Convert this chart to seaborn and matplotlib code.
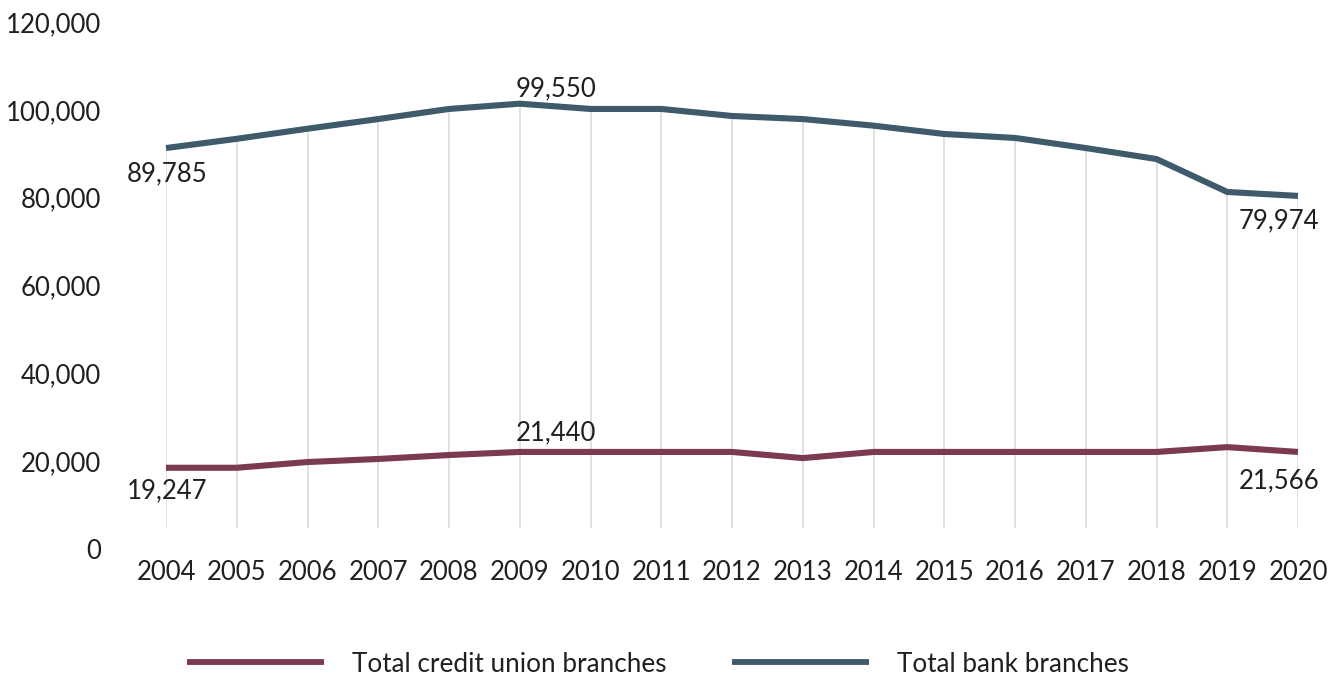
import numpy as np
import pandas as pd
import matplotlib
matplotlib.use("Agg")
import matplotlib.pyplot as plt
import seaborn as sns

years = list(range(2004, 2021))
bank_branches = [91300, 93400, 95700, 97900, 100200, 101400, 100200, 100200, 98600,
                 97900, 96400, 94500, 93600, 91300, 88800, 81300, 80400]
credit_union_branches = [18500, 18500, 19800, 20500, 21400, 22100, 22100, 22100, 22100,
                         20700, 22100, 22100, 22100, 22100, 22100, 23200, 22100]
series_names = ["Total credit union branches", "Total bank branches"]
y_ticks = [0, 20000, 40000, 60000, 80000, 100000, 120000]
# annotation labels: (series, year, text)
annotations = [
    ("Total bank branches", 2004, "89,785"),
    ("Total bank branches", 2009, "99,550"),
    ("Total bank branches", 2020, "79,974"),
    ("Total credit union branches", 2004, "19,247"),
    ("Total credit union branches", 2009, "21,440"),
    ("Total credit union branches", 2020, "21,566"),
]

colors = {"Total credit union branches": "#7B3A52", "Total bank branches": "#3E5A6B"}

df = pd.concat([
    pd.DataFrame({"year": years, "value": credit_union_branches, "series": series_names[0]}),
    pd.DataFrame({"year": years, "value": bank_branches, "series": series_names[1]}),
])

sns.set_theme(style="white")
plt.rcParams["font.family"] = ["Lato", "DejaVu Sans"]
text_color = "#231F20"
fs = 18.5

W, H = 1343, 677
fig = plt.figure(figsize=(W / 100, H / 100), dpi=100)
ax = fig.add_axes([166 / W, (H - 549) / H, (1298 - 166) / W, (549 - 22) / H])

# drop lines from the bank line down toward the category axis
ax.vlines(years, 4800, bank_branches, colors="#D9D9D9", linewidth=1.1, zorder=0)

sns.lineplot(data=df, x="year", y="value", hue="series", hue_order=series_names,
             palette=colors, linewidth=4.4, ax=ax, legend=False, zorder=3)
for ln in ax.lines:
    ln.set_solid_capstyle("butt")
    ln.set_solid_joinstyle("round")
    ln.set_clip_on(False)

ax.set_xlim(2004, 2020)
ax.set_ylim(0, 120000)
ax.set_yticks(y_ticks)
ax.set_yticklabels([f"{v:,}" for v in y_ticks])
ax.set_xticks(years)
ax.set_xticklabels([str(y) for y in years])
ax.tick_params(axis="y", length=0, pad=47, labelsize=fs, labelcolor=text_color)
ax.tick_params(axis="x", length=0, pad=8, labelsize=fs, labelcolor=text_color)
ax.set_xlabel("")
ax.set_ylabel("")
for s in ax.spines.values():
    s.set_visible(False)
ax.grid(False)

lookup = {series_names[0]: dict(zip(years, credit_union_branches)),
          series_names[1]: dict(zip(years, bank_branches))}
offsets = {
    ("Total bank branches", 2004): (0.7, -18.7),
    ("Total bank branches", 2009): (26, 10.8),
    ("Total bank branches", 2020): (-13.7, -18.0),
    ("Total credit union branches", 2004): (0.7, -16.6),
    ("Total credit union branches", 2009): (26, 13.7),
    ("Total credit union branches", 2020): (-13.7, -20.9),
}
for series, yr, txt in annotations:
    ax.annotate(txt, xy=(yr, lookup[series][yr]), xytext=offsets[(series, yr)],
                textcoords="offset points", ha="center", va="center",
                fontsize=fs, color=text_color, zorder=5)

from matplotlib.lines import Line2D
handles = [Line2D([0], [0], color=colors[n], linewidth=4.2, solid_capstyle="butt") for n in series_names]
leg = fig.legend(handles, series_names, loc="center", bbox_to_anchor=(658 / W, 13 / H),
                 ncol=2, frameon=False, fontsize=18.8, handlelength=5.25,
                 handletextpad=1.07, columnspacing=2.5)
for t in leg.get_texts():
    t.set_color(text_color)

fig.savefig("out.png", dpi=100, facecolor="white")
